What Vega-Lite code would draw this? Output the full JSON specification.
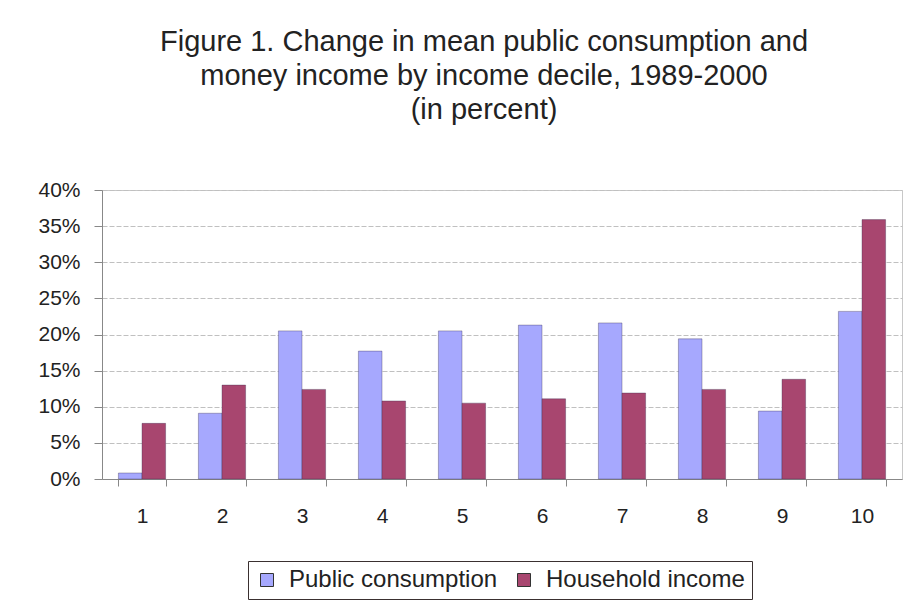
{
  "$schema": "https://vega.github.io/schema/vega-lite/v6.json",
  "autosize": {"type": "none"},
  "width": 800,
  "height": 289,
  "padding": {"left": 102, "top": 190, "right": 10, "bottom": 134},
  "background": "white",
  "config": {
    "font": "Liberation Sans",
    "view": {"stroke": "#c8c8c8", "strokeWidth": 1}
  },
  "title": {
    "text": ["Figure 1. Change in mean public consumption and", "money income by income decile, 1989-2000", "(in percent)"],
    "fontSize": 29,
    "fontWeight": "normal",
    "color": "#222222",
    "lineHeight": 34,
    "anchor": "middle",
    "dx": -18,
    "offset": 54
  },
  "data": {
    "values": [
      {"decile": "1", "series": "Public consumption", "value": 0.0083},
      {"decile": "1", "series": "Household income", "value": 0.077},
      {"decile": "2", "series": "Public consumption", "value": 0.091},
      {"decile": "2", "series": "Household income", "value": 0.130},
      {"decile": "3", "series": "Public consumption", "value": 0.205},
      {"decile": "3", "series": "Household income", "value": 0.124},
      {"decile": "4", "series": "Public consumption", "value": 0.177},
      {"decile": "4", "series": "Household income", "value": 0.108},
      {"decile": "5", "series": "Public consumption", "value": 0.205},
      {"decile": "5", "series": "Household income", "value": 0.105},
      {"decile": "6", "series": "Public consumption", "value": 0.213},
      {"decile": "6", "series": "Household income", "value": 0.111},
      {"decile": "7", "series": "Public consumption", "value": 0.216},
      {"decile": "7", "series": "Household income", "value": 0.119},
      {"decile": "8", "series": "Public consumption", "value": 0.194},
      {"decile": "8", "series": "Household income", "value": 0.124},
      {"decile": "9", "series": "Public consumption", "value": 0.094},
      {"decile": "9", "series": "Household income", "value": 0.138},
      {"decile": "10", "series": "Public consumption", "value": 0.232},
      {"decile": "10", "series": "Household income", "value": 0.359}
    ]
  },
  "mark": {"type": "bar", "stroke": "#3a3050", "strokeOpacity": 0.45, "strokeWidth": 0.8},
  "encoding": {
    "x": {
      "field": "decile",
      "type": "ordinal",
      "sort": ["1", "2", "3", "4", "5", "6", "7", "8", "9", "10"],
      "scale": {"paddingInner": 0.41, "paddingOuter": 0.205},
      "axis": {
        "title": null,
        "labelAngle": 0,
        "labelFontSize": 21,
        "labelColor": "#222222",
        "labelPadding": 19,
        "domainColor": "#888888",
        "tickColor": "#888888",
        "tickSize": 7,
        "tickBand": "extent",
        "grid": false
      }
    },
    "xOffset": {
      "field": "series",
      "type": "nominal",
      "sort": ["Public consumption", "Household income"]
    },
    "y": {
      "field": "value",
      "type": "quantitative",
      "scale": {"domain": [0, 0.4], "nice": false},
      "axis": {
        "title": null,
        "values": [0, 0.05, 0.1, 0.15, 0.2, 0.25, 0.3, 0.35, 0.4],
        "format": ".0%",
        "labelFontSize": 21,
        "labelColor": "#222222",
        "labelPadding": 14,
        "tickSize": 8,
        "tickColor": "#888888",
        "domainColor": "#888888",
        "gridColor": "#c0c0c0",
        "gridDash": [5, 2]
      }
    },
    "color": {
      "field": "series",
      "type": "nominal",
      "sort": ["Public consumption", "Household income"],
      "scale": {"domain": ["Public consumption", "Household income"], "range": ["#a6a8fe", "#a8466f"]},
      "legend": {
        "title": null,
        "orient": "none",
        "legendX": 146,
        "legendY": 371,
        "direction": "horizontal",
        "labelFontSize": 24,
        "labelLimit": 0,
        "labelColor": "#222222",
        "labelOffset": 10,
        "columnPadding": 14,
        "symbolType": "square",
        "symbolSize": 169,
        "symbolStrokeColor": "#333333",
        "symbolStrokeWidth": 1,
        "symbolOpacity": 1,
        "strokeColor": "#3a3030",
        "padding": 7,
        "fillColor": "white"
      }
    }
  }
}
